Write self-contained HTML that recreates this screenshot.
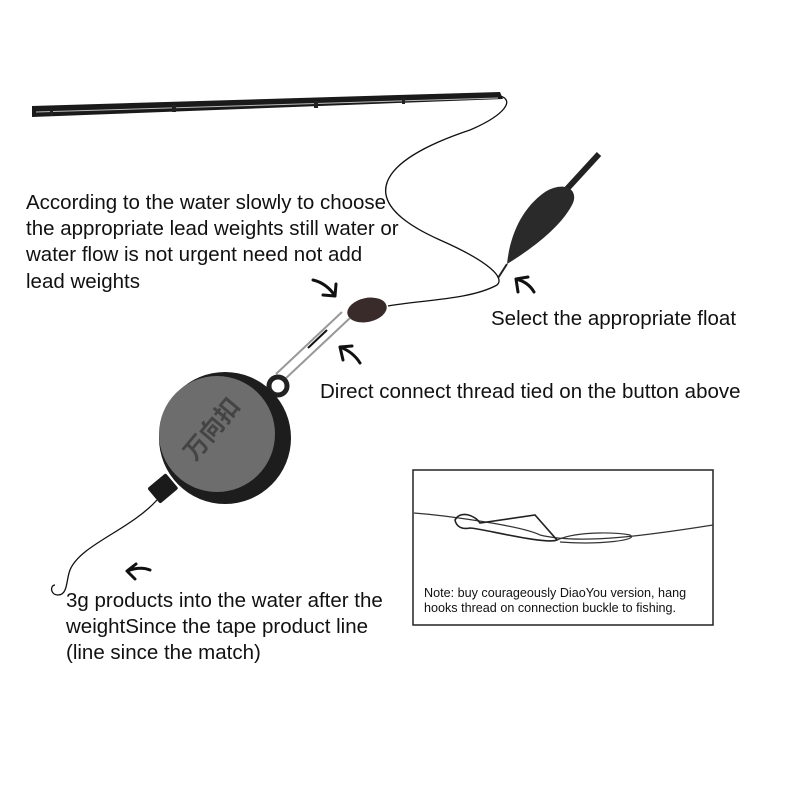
<!DOCTYPE html>
<html><head><meta charset="utf-8"><style>
body{margin:0;background:#fff;}
svg{display:block}
text{font-family:"Liberation Sans",sans-serif;fill:#111;}
</style></head><body>
<svg width="800" height="800" viewBox="0 0 800 800" xmlns="http://www.w3.org/2000/svg">
<!-- rod -->
<polygon points="32,106 500,92 503,99 32,117" fill="#1a1a1a"/>
<line x1="36" y1="112" x2="498" y2="98" stroke="#bbb" stroke-width="1"/>
<g fill="#222"><rect x="50" y="110" width="3" height="6"/><rect x="172" y="105" width="4" height="7"/><rect x="314" y="101" width="4" height="7"/><rect x="402" y="98" width="3" height="6"/></g>
<!-- line -->
<path d="M500,96 C515,100 505,115 470,130 C380,160 350,200 440,240 C490,262 505,278 497,285 C470,300 420,300 388,306" fill="none" stroke="#111" stroke-width="1.3"/>
<!-- float -->
<line x1="566" y1="190" x2="599" y2="154" stroke="#222" stroke-width="6"/>
<path d="M507,264 C510,235 522,208 545,192 C565,180 580,190 572,205 C560,228 530,250 507,264Z" fill="#2a2a2a"/>
<line x1="507" y1="264" x2="498" y2="278" stroke="#222" stroke-width="2"/>
<!-- weight -->
<ellipse cx="367" cy="310" rx="20" ry="12" transform="rotate(-12 367 310)" fill="#3a2b2b"/>
<!-- connector -->
<path d="M350,318 L284,380 M342,312 L276,374" stroke="#999" stroke-width="2" fill="none"/>
<line x1="327" y1="330" x2="308" y2="348" stroke="#111" stroke-width="2"/>
<!-- disc -->
<rect x="150" y="478" width="24" height="20" rx="2" transform="rotate(-40 163 487)" fill="#1a1a1a"/>
<circle cx="278" cy="386" r="9" fill="none" stroke="#222" stroke-width="5"/>
<circle cx="225" cy="438" r="66" fill="#1d1d1d"/>
<circle cx="217" cy="434" r="58" fill="#6d6d6d"/>
<text x="0" y="0" transform="translate(195,462) rotate(-50)" style="font-family:'Noto Sans CJK SC',sans-serif;font-size:24px;fill:#444;font-weight:bold">万向扣</text>
<!-- hook line -->
<path d="M157,500 C130,530 80,545 70,570 C66,580 68,595 58,595 C50,595 50,585 55,585" fill="none" stroke="#111" stroke-width="1.3"/>
<!-- arrows -->
<g fill="none" stroke="#111" stroke-width="3" stroke-linecap="round">
<path d="M313,280 C322,282 330,288 335,296 M335,296 L323,295 M335,296 L336,284"/>
<path d="M360,363 C355,355 348,350 340,347 M340,347 L343,360 M340,347 L352,346"/>
<path d="M534,292 C530,285 524,281 516,279 M516,279 L518,292 M516,279 L528,277"/>
<path d="M150,570 C143,567 135,568 127,571 M127,571 L136,564 M127,571 L135,579"/>
</g>
<!-- text -->
<g font-size="20.5">
<text x="26" y="209">According to the water slowly to choose</text>
<text x="26" y="235">the appropriate lead weights still water or</text>
<text x="26" y="261">water flow is not urgent need not add</text>
<text x="26" y="288">lead weights</text>
<text x="491" y="325">Select the appropriate float</text>
<text x="320" y="398">Direct connect thread tied on the button above</text>
<text x="66" y="607">3g products into the water after the</text>
<text x="66" y="633">weightSince the tape product line</text>
<text x="66" y="659">(line since the match)</text>
</g>
<!-- box -->
<rect x="413" y="470" width="300" height="155" fill="none" stroke="#222" stroke-width="1.5"/>
<path d="M414,513 C440,515 520,525 540,535 C580,545 650,535 713,525" fill="none" stroke="#333" stroke-width="1.2"/>
<path d="M455,520 C460,510 475,515 480,523 L535,515 L557,540 C545,545 480,528 470,528 C460,530 456,525 455,520Z" fill="none" stroke="#222" stroke-width="1.6"/>
<path d="M557,540 C580,530 620,533 630,535 C640,540 600,545 560,542" fill="none" stroke="#333" stroke-width="1.2"/>
<g font-size="12.6"><text x="424" y="597">Note: buy courageously DiaoYou version, hang</text>
<text x="424" y="612">hooks thread on connection buckle to fishing.</text></g>
</svg>
</body></html>
